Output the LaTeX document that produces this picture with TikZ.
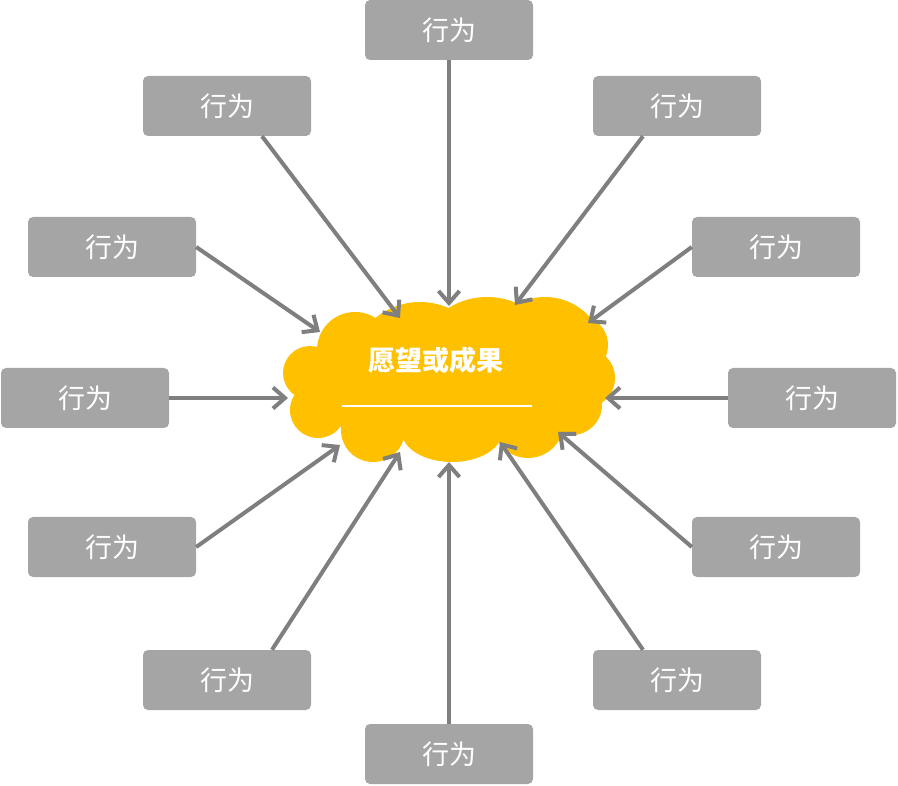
\documentclass[tikz,border=0pt]{standalone}
\usepackage{fontspec}
\newfontfamily\cjk{Noto Sans CJK SC}
\usetikzlibrary{arrows.meta}
\definecolor{boxgray}{HTML}{A5A5A5}
\definecolor{arrgray}{HTML}{7F7F7F}
\definecolor{gold}{HTML}{FFC000}
\tikzset{
  actbox/.style={draw=none,fill=boxgray,rounded corners=5pt,minimum width=168pt,minimum height=60pt,text=white,font=\cjk\fontsize{27}{27}\selectfont,inner sep=0pt},
  conn/.style={draw=arrgray,line width=4pt,-{Straight Barb[length=12pt,width=21pt,line width=4pt]}}
}
\begin{document}
\begin{tikzpicture}[x=1pt,y=-1pt]
\useasboundingbox (0,0) rectangle (898,786);
% cloud as union of puffs
\fill[gold]
  (449,378) ellipse[x radius=140pt,y radius=55pt]
  (420,372) circle[radius=70pt]
  (487,370) circle[radius=73pt]
  (545,357) circle[radius=60pt]
  (578,345) circle[radius=30pt]
  (585,378) circle[radius=30pt]
  (572,405) circle[radius=30pt]
  (528,422) circle[radius=36pt]
  (452,432) ellipse[x radius=50pt,y radius=30pt]
  (373,430) circle[radius=32pt]
  (318,410) circle[radius=28pt]
  (310,373) circle[radius=27pt]
  (355,350) circle[radius=38pt];
\node[text=white,font=\cjk\bfseries\fontsize{27}{27}\selectfont] (t) at (436,360) {愿望或成果};
\coordinate (la) at (342,406);
\coordinate (lb) at (532,406);
\draw[white,line width=1.5pt] (la) -- (lb);

\node[actbox] (b1) at (449,30) {行为};
\node[actbox] (b2) at (227,106) {行为};
\node[actbox] (b3) at (677,106) {行为};
\node[actbox] (b4) at (112,247) {行为};
\node[actbox] (b5) at (776,247) {行为};
\node[actbox] (b6) at (85,398) {行为};
\node[actbox] (b7) at (812,398) {行为};
\node[actbox] (b8) at (112,547) {行为};
\node[actbox] (b9) at (776,547) {行为};
\node[actbox] (b10) at (227,680) {行为};
\node[actbox] (b11) at (677,680) {行为};
\node[actbox] (b12) at (449,754) {行为};

\coordinate (e1) at (449,306);
\coordinate (e2) at (400,318);
\coordinate (e3) at (515,305);
\coordinate (e4) at (320,332);
\coordinate (e5) at (588,323);
\coordinate (e6) at (288,398);
\coordinate (e7) at (605,398);
\coordinate (e8) at (340,445);
\coordinate (e9) at (558,432);
\coordinate (e10) at (400,452);
\coordinate (e11) at (500,442);
\coordinate (e12) at (449,462);

\draw[conn] (b1.south) -- (e1);
\draw[conn] ([xshift=35pt]b2.south) -- (e2);
\draw[conn] ([xshift=-34pt]b3.south) -- (e3);
\draw[conn] (b4.east) -- (e4);
\draw[conn] (b5.west) -- (e5);
\draw[conn] (b6.east) -- (e6);
\draw[conn] (b7.west) -- (e7);
\draw[conn] (b8.east) -- (e8);
\draw[conn] (b9.west) -- (e9);
\draw[conn] ([xshift=45pt]b10.north) -- (e10);
\draw[conn] ([xshift=-34pt]b11.north) -- (e11);
\draw[conn] (b12.north) -- (e12);
\end{tikzpicture}
\end{document}
